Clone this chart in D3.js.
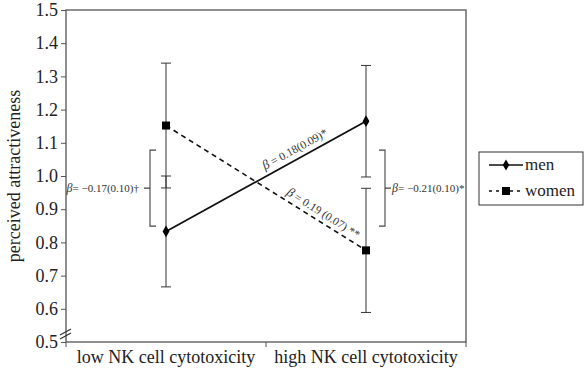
<!DOCTYPE html>
<html>
<head>
<meta charset="utf-8">
<script src="https://cdn.jsdelivr.net/npm/d3@7"></script>
<style>
  body { margin: 0; background: #fff; }
</style>
</head>
<body>
<div id="chart"></div>
<script>
const categories = ["low NK cell cytotoxicity", "high NK cell cytotoxicity"];
const menMeans = [0.833, 1.165];
const menErr = [0.167, 0.168];
const womenMeans = [1.152, 0.776];
const womenErr = [0.188, 0.187];
const yTicks = [0.5, 0.6, 0.7, 0.8, 0.9, 1.0, 1.1, 1.2, 1.3, 1.4, 1.5];
const bracketRange = [0.849, 1.078];
const leftLabel = "= \u22120.17(0.10)\u2020";
const rightLabel = "= \u22120.21(0.10)*";
const menSlopeLabel = " = 0.18(0.09)*";
const womenSlopeLabel = " = 0.19 (0.07) **";

const width = 586, height = 370;
const margin = {top: 10, right: 120, bottom: 28, left: 66};
const serif = "Liberation Serif";

const svg = d3.select("#chart").append("svg")
    .attr("width", width)
    .attr("height", height)
    .attr("font-family", serif);

const x = d3.scaleBand()
    .domain(categories)
    .range([margin.left, width - margin.right]);

const y = d3.scaleLinear()
    .domain([0.5, 1.5])
    .range([height - margin.bottom, margin.top]);

const cx = d => x(d) + x.bandwidth() / 2;
const axisColor = "#555";

// frame
svg.append("rect")
    .attr("x", x.range()[0])
    .attr("y", y(1.5))
    .attr("width", x.range()[1] - x.range()[0])
    .attr("height", y(0.5) - y(1.5))
    .attr("fill", "none")
    .attr("stroke", axisColor)
    .attr("stroke-width", 1.3);

// y axis
svg.append("g")
    .attr("transform", `translate(${margin.left},0)`)
    .call(d3.axisLeft(y).tickValues(yTicks).tickFormat(d3.format(".1f")).tickSize(5).tickPadding(3))
    .attr("font-family", serif)
    .call(g => g.select(".domain").remove())
    .call(g => g.selectAll(".tick line").attr("stroke", axisColor))
    .call(g => g.selectAll(".tick text")
        .attr("font-size", 18)
        .attr("fill", "#222"));

// x axis ticks at band edges
const edges = [x.range()[0], x.range()[0] + x.bandwidth(), x.range()[1]];
svg.append("g").selectAll("line")
    .data(edges)
    .join("line")
    .attr("x1", d => d).attr("x2", d => d)
    .attr("y1", y(0.5)).attr("y2", y(0.5) + 5)
    .attr("stroke", axisColor);

svg.append("g").selectAll("text")
    .data(categories)
    .join("text")
    .attr("x", d => cx(d))
    .attr("y", y(0.5) + 21)
    .attr("text-anchor", "middle")
    .attr("font-size", 18)
    .attr("fill", "#222")
    .text(d => d);

// axis break
const bx = margin.left, by = y(0.5);
svg.append("g").selectAll("path")
    .data([-4, 0])
    .join("path")
    .attr("d", d => `M${bx - 6},${by - 3 + d}L${bx + 5},${by - 9 + d}`)
    .attr("stroke", "#333")
    .attr("stroke-width", 1.2)
    .attr("fill", "none");

// y label
svg.append("text")
    .attr("transform", `translate(20,${y(1.0)}) rotate(-90)`)
    .attr("text-anchor", "middle")
    .attr("font-size", 18)
    .attr("fill", "#222")
    .text("perceived attractiveness");

// error bars
function errorBars(means, errs) {
  const g = svg.append("g").attr("stroke", "#333").attr("stroke-width", 1);
  categories.forEach((c, i) => {
    const lo = means[i] - errs[i], hi = means[i] + errs[i];
    g.append("line").attr("x1", cx(c)).attr("x2", cx(c)).attr("y1", y(lo)).attr("y2", y(hi));
    [lo, hi].forEach(v => g.append("line")
        .attr("x1", cx(c) - 5).attr("x2", cx(c) + 5)
        .attr("y1", y(v)).attr("y2", y(v)));
  });
}
errorBars(menMeans, menErr);
errorBars(womenMeans, womenErr);

// lines
const line = d3.line().x((d, i) => cx(categories[i])).y(d => y(d));
svg.append("path")
    .datum(menMeans)
    .attr("d", line)
    .attr("fill", "none")
    .attr("stroke", "#111")
    .attr("stroke-width", 1.8);
svg.append("path")
    .datum(womenMeans)
    .attr("d", line)
    .attr("fill", "none")
    .attr("stroke", "#111")
    .attr("stroke-width", 1.6)
    .attr("stroke-dasharray", "5,4");

// markers
svg.append("g").selectAll("path")
    .data(menMeans)
    .join("path")
    .attr("transform", (d, i) => `translate(${cx(categories[i])},${y(d)})`)
    .attr("d", d3.symbol(d3.symbolDiamond, 40))
    .attr("fill", "#000");
svg.append("g").selectAll("rect")
    .data(womenMeans)
    .join("rect")
    .attr("x", (d, i) => cx(categories[i]) - 4)
    .attr("y", d => y(d) - 4)
    .attr("width", 8).attr("height", 8)
    .attr("fill", "#000");

// brackets
function bracket(xPos, dir) {
  const y0 = y(bracketRange[1]), y1 = y(bracketRange[0]), ym = (y0 + y1) / 2;
  svg.append("path")
      .attr("d", `M${xPos + dir * 6},${y0}L${xPos},${y0}L${xPos},${y1}L${xPos + dir * 6},${y1}M${xPos},${ym}L${xPos - dir * 6},${ym}`)
      .attr("fill", "none")
      .attr("stroke", "#444")
      .attr("stroke-width", 1.1);
}
bracket(cx(categories[0]) - 16, 1);
bracket(cx(categories[1]) + 19, -1);

const ymid = (y(bracketRange[0]) + y(bracketRange[1])) / 2;
const lt = svg.append("text")
    .attr("x", cx(categories[0]) - 27)
    .attr("y", ymid + 4)
    .attr("text-anchor", "end")
    .attr("font-size", 11)
    .attr("fill", "#333");
lt.append("tspan").attr("font-style", "italic").attr("font-size", 12).text("\u03b2");
lt.append("tspan").text(leftLabel);

const rt = svg.append("text")
    .attr("x", cx(categories[1]) + 26)
    .attr("y", ymid + 4)
    .attr("font-size", 11)
    .attr("fill", "#333");
rt.append("tspan").attr("font-style", "italic").attr("font-size", 12).text("\u03b2");
rt.append("tspan").text(rightLabel);

// slope labels
function slopeLabel(means, label, t, offset) {
  const x0 = cx(categories[0]), x1 = cx(categories[1]);
  const y0 = y(means[0]), y1 = y(means[1]);
  const ang = Math.atan2(y1 - y0, x1 - x0) * 180 / Math.PI;
  const px = x0 + (x1 - x0) * t, py = y0 + (y1 - y0) * t;
  const tx = svg.append("text")
      .attr("transform", `translate(${px},${py}) rotate(${ang}) translate(0,${offset})`)
      .attr("font-size", 11.5)
      .attr("fill", "#333");
  tx.append("tspan").attr("font-style", "italic").attr("font-size", 13).text("\u03b2");
  tx.append("tspan").text(label);
}
slopeLabel(menMeans, menSlopeLabel, 0.51, -6);
slopeLabel(womenMeans, womenSlopeLabel, 0.585, -5);

// legend
const lg = svg.append("g").attr("transform", "translate(479,152)");
lg.append("rect")
    .attr("width", 104).attr("height", 53)
    .attr("fill", "#fff")
    .attr("stroke", "#333");
lg.append("line").attr("x1", 10).attr("x2", 44).attr("y1", 13).attr("y2", 13)
    .attr("stroke", "#111").attr("stroke-width", 1.6);
lg.append("path").attr("transform", "translate(27,13)")
    .attr("d", d3.symbol(d3.symbolDiamond, 36)).attr("fill", "#000");
lg.append("line").attr("x1", 10).attr("x2", 44).attr("y1", 39).attr("y2", 39)
    .attr("stroke", "#111").attr("stroke-width", 1.5).attr("stroke-dasharray", "3,4");
lg.append("rect").attr("x", 23).attr("y", 35).attr("width", 8).attr("height", 8).attr("fill", "#000");
lg.append("text").attr("x", 46).attr("y", 18).attr("font-size", 17).attr("fill", "#222").text("men");
lg.append("text").attr("x", 46).attr("y", 44).attr("font-size", 17).attr("fill", "#222").text("women");
</script>
</body>
</html>
